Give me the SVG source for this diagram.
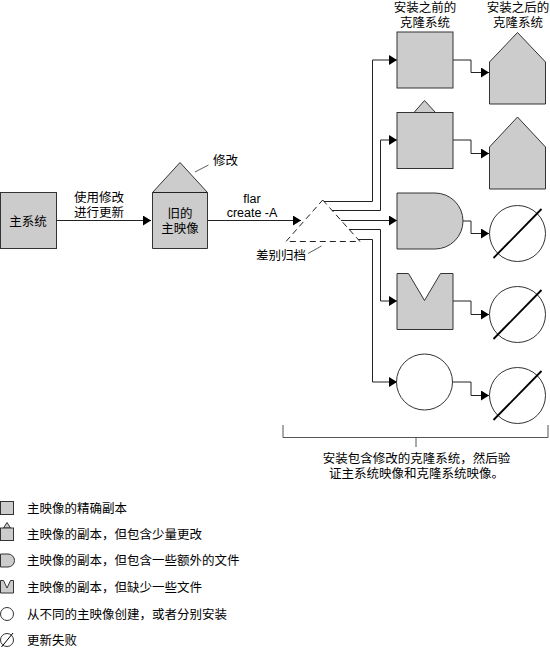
<svg xmlns="http://www.w3.org/2000/svg" width="550" height="648" viewBox="0 0 550 648">
<defs>
<style>
text{font-family:"Liberation Sans","Noto Sans CJK SC",sans-serif;font-size:12.5px;fill:#000}
.mid{text-anchor:middle}
.sh{fill:#cccccc;stroke:#333;stroke-width:1}
.wh{fill:#fff;stroke:#333;stroke-width:1}
.cn{fill:none;stroke:#222;stroke-width:1}
.sl{fill:none;stroke:#000;stroke-width:1.8}
.ld{fill:none;stroke:#333;stroke-width:0.8}
</style>
<marker id="ah" markerUnits="userSpaceOnUse" markerWidth="8" markerHeight="10" refX="8" refY="5" orient="auto">
<path d="M0,0 L8,5 L0,10 Z" fill="#000"/>
</marker>
</defs>
<rect width="550" height="648" fill="#fff"/>

<g id="connectors">
<path class="cn" d="M56,220.5 H151" marker-end="url(#ah)"/>
<path class="cn" d="M208,220.5 H301" marker-end="url(#ah)"/>
<path class="cn" d="M324,201.5 H372.5 V60 H397" marker-end="url(#ah)"/>
<path class="cn" d="M332,210.5 H380.5 V140 H397" marker-end="url(#ah)"/>
<path class="cn" d="M341,220.5 H397" marker-end="url(#ah)"/>
<path class="cn" d="M349,229.5 H380.5 V301 H397" marker-end="url(#ah)"/>
<path class="cn" d="M358,239.5 H372.5 V382 H397" marker-end="url(#ah)"/>
<path class="cn" d="M453,60 H471 V72.5 H489" marker-end="url(#ah)"/>
<path class="cn" d="M453,140 H471 V153.5 H489" marker-end="url(#ah)"/>
<path class="cn" d="M463,221 H471 V233.5 H489" marker-end="url(#ah)"/>
<path class="cn" d="M453,301 H471 V314.5 H489" marker-end="url(#ah)"/>
<path class="cn" d="M452,382 H471 V395.5 H489" marker-end="url(#ah)"/>
</g>

<g id="main-system">
<rect class="sh" x="0.5" y="192.5" width="56" height="56"/>
<text class="mid" x="28" y="225.5">主系统</text>
</g>
<g id="update-label">
<text class="mid" x="99" y="201.5">使用修改</text>
<text class="mid" x="99" y="217">进行更新</text>
</g>

<g id="old-master">
<path class="sh" d="M152.5,248.5 V192.5 L180,162.5 L207.5,192.5 V248.5 Z"/>
<path class="cn" d="M152.5,192.5 H207.5"/>
<text class="mid" x="180" y="217.5">旧的</text>
<text class="mid" x="180" y="232.5">主映像</text>
<path class="ld" d="M195,172 L208.5,165"/>
<text x="213" y="164.5">修改</text>
</g>

<g id="flar-label">
<text class="mid" x="252" y="202.5">flar</text>
<text class="mid" x="252" y="217">create -A</text>
</g>

<g id="archive">
<path d="M322.7,200 L360,241.5 H286 Z" fill="none" stroke="#222" stroke-width="1" stroke-dasharray="6,4"/>
<path class="ld" d="M308,253.5 L321.5,246"/>
<text x="256" y="259.5">差别归档</text>
</g>

<g id="headers">
<text class="mid" x="425" y="11.5">安装之前的</text>
<text class="mid" x="425" y="27">克隆系统</text>
<text class="mid" x="518" y="11.5">安装之后的</text>
<text class="mid" x="518" y="27">克隆系统</text>
</g>

<g id="clone1-before"><rect class="sh" x="397" y="32" width="56" height="56"/></g>
<g id="clone1-after"><path class="sh" d="M489.5,62 L517.5,32.5 L545.5,62 V104 H489.5 Z"/></g>

<g id="clone2-before">
<path class="sh" d="M414,112.5 L424.5,100.5 L435.5,112.5 Z"/>
<rect class="sh" x="397" y="112.5" width="56" height="56"/>
</g>
<g id="clone2-after"><path class="sh" d="M489.5,147 L517.5,117 L545.5,147 V189 H489.5 Z"/></g>

<g id="clone3-before"><path class="sh" d="M397,193 H435 A28,28 0 0 1 435,249 H397 Z"/></g>
<g id="clone3-after">
<circle class="wh" cx="517.5" cy="233.5" r="28"/>
<path class="sl" d="M493.5,258 L541.5,209"/>
</g>

<g id="clone4-before"><path class="sh" d="M397,273.5 H408.5 L424.5,300.5 L440.5,273.5 H453 V329.5 H397 Z"/></g>
<g id="clone4-after">
<circle class="wh" cx="517.5" cy="314.5" r="28"/>
<path class="sl" d="M493.5,339 L541.5,290"/>
</g>

<g id="clone5-before"><circle class="wh" cx="424.5" cy="382" r="28"/></g>
<g id="clone5-after">
<circle class="wh" cx="517.5" cy="395.5" r="28"/>
<path class="sl" d="M493.5,420 L541.5,371"/>
</g>

<g id="bracket">
<path d="M283,425 V437.5 H548 V425 M416,437.5 V447" fill="none" stroke="#555" stroke-width="1"/>
<text class="mid" x="416.5" y="463">安装包含修改的克隆系统，然后验</text>
<text class="mid" x="416.5" y="478">证主系统映像和克隆系统映像。</text>
</g>

<g id="legend">
<rect class="sh" x="0.5" y="501.5" width="13" height="13"/>
<text x="27" y="512.5">主映像的精确副本</text>
<path class="sh" d="M3.5,528 L7,522.5 L10.5,528 Z"/>
<rect class="sh" x="0.5" y="528" width="13" height="12.5"/>
<text x="27" y="538.5">主映像的副本，但包含少量更改</text>
<path class="sh" d="M0.5,554 H8 A6.5,6.5 0 0 1 8,567 H0.5 Z"/>
<text x="27" y="565">主映像的副本，但包含一些额外的文件</text>
<path class="sh" d="M0.5,580.5 H3.5 L7,588 L10.5,580.5 H13.5 V593 H0.5 Z"/>
<text x="27" y="591.5">主映像的副本，但缺少一些文件</text>
<circle class="wh" cx="7" cy="614" r="6.5"/>
<text x="27" y="618.5">从不同的主映像创建，或者分别安装</text>
<circle class="wh" cx="7" cy="640" r="6.5"/>
<path fill="none" stroke="#000" stroke-width="1" d="M1.5,647 L13,633"/>
<text x="27" y="644.5">更新失败</text>
</g>
</svg>
